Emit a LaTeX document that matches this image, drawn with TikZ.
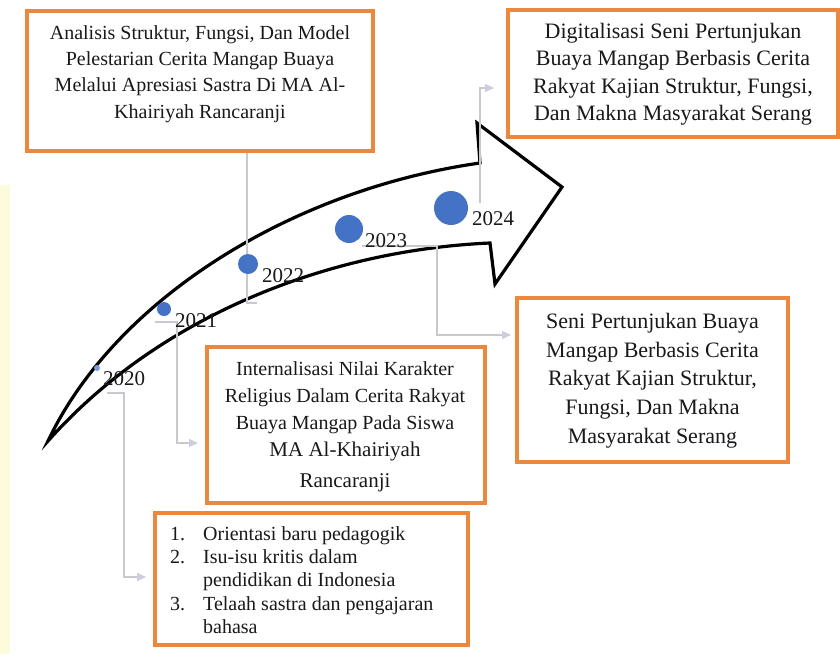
\documentclass[tikz,border=0pt]{standalone}
\usepackage{fontspec}
\setmainfont{Liberation Serif}
\usetikzlibrary{arrows.meta}
\definecolor{boxorange}{RGB}{236,135,62}
\definecolor{dotblue}{RGB}{68,114,196}
\definecolor{conngray}{RGB}{200,200,206}
\definecolor{tipgray}{RGB}{205,205,220}
\definecolor{inkblack}{RGB}{25,25,25}
\definecolor{stripyellow}{RGB}{253,252,218}
\begin{document}
\begin{tikzpicture}[x=1pt,y=-1pt,
  obox/.style={draw=boxorange,line width=3.5pt,fill=white,inner sep=0pt},
  btext/.style={anchor=north,inner sep=0pt,align=center,text=inkblack},
  yearlab/.style={anchor=base west,inner sep=0pt,text=inkblack,font=\fontsize{21}{21}\selectfont},
  dotnode/.style={circle,fill=dotblue,inner sep=0pt,draw=none},
  conn/.style={draw=conngray,line width=1.2pt},
  connarrow/.style={conn,-{Triangle[length=9pt,width=8pt,fill=tipgray,color=tipgray]}}
]
\useasboundingbox (0,0) rectangle (840,654);
\fill[white] (0,0) rectangle (840,654);
\fill[stripyellow] (0,185) rectangle (10,654);

% big curved arrow
\draw[line width=3.2pt,line join=miter,fill=white,draw=black]
  (48,441) .. controls (115,300) and (290,190) .. (480,163)
  -- (477,123) -- (562,187) -- (495,284) -- (490,243)
  .. controls (330,250) and (160,315) .. (48,441) -- cycle;

% boxes
\node[obox,minimum width=346pt,minimum height=140pt] (b1) at (200,81) {};
\node[obox,minimum width=330pt,minimum height=127pt] (b2) at (673,73.5) {};
\node[obox,minimum width=271pt,minimum height=164pt] (b3) at (652.5,380) {};
\node[obox,minimum width=278pt,minimum height=156pt] (b4) at (346,425) {};
\node[obox,minimum width=313pt,minimum height=132pt] (b5) at (311.5,579) {};

% box texts
\node[btext,font=\fontsize{20}{26.3}\selectfont] (t1) at (200,25.3)
  {Analisis Struktur, Fungsi, Dan Model\\Pelestarian Cerita Mangap Buaya\\Melalui Apresiasi Sastra Di MA Al-\\Khairiyah Rancaranji};
\node[btext,font=\fontsize{22}{27.3}\selectfont] (t2) at (673,23)
  {Digitalisasi Seni Pertunjukan\\Buaya Mangap Berbasis Cerita\\Rakyat Kajian Struktur, Fungsi,\\Dan Makna Masyarakat Serang};
\node[btext,font=\fontsize{22}{28.7}\selectfont] (t3) at (652.5,313)
  {Seni Pertunjukan Buaya\\Mangap Berbasis Cerita\\Rakyat Kajian Struktur,\\Fungsi, Dan Makna\\Masyarakat Serang};
\node[btext,font=\fontsize{20}{27}\selectfont] (t4) at (345,361.3)
  {Internalisasi Nilai Karakter\\Religius Dalam Cerita Rakyat\\Buaya Mangap Pada Siswa\\{\fontsize{21}{27}\selectfont MA Al-Khairiyah}\\[4pt]{\fontsize{21}{27}\selectfont Rancaranji}};
\node[anchor=north west,inner sep=0pt,text=inkblack,font=\fontsize{20}{23.3}\selectfont] (t5) at (170,523.7)
  {\begin{tabular}{@{}l@{\hspace{18pt}}l@{}}
   1. & Orientasi baru pedagogik\\
   2. & Isu-isu kritis dalam\\
      & pendidikan di Indonesia\\
   3. & Telaah sastra dan pengajaran\\
      & bahasa
   \end{tabular}};

% connector end points
\coordinate (s20) at (107,393);
\coordinate (e20) at (146,577);
\coordinate (s21) at (155,322);
\coordinate (e21) at (198,443);
\coordinate (s22) at (257,303);
\coordinate (e22) at (247,153);
\coordinate (s23) at (362,246);
\coordinate (e23) at (511,335);
\coordinate (s24) at (480,203);
\coordinate (e24) at (494,88);

\draw[connarrow] (s20) -- (124,393) |- (e20);
\draw[connarrow] (s21) -- (177,322) |- (e21);
\draw[conn] (s22) -- (247,303) -- (e22);
\draw[connarrow] (s23) -- (437,246) |- (e23);
\draw[connarrow] (s24) |- (e24);

% dots
\node[dotnode,minimum size=6pt,fill=dotblue!70] (d20) at (97,368) {};
\node[dotnode,minimum size=14pt] (d21) at (164,309) {};
\node[dotnode,minimum size=20pt] (d22) at (248,264) {};
\node[dotnode,minimum size=28pt] (d23) at (349,229) {};
\node[dotnode,minimum size=34pt] (d24) at (451,208) {};

% year labels
\node[yearlab] (y20) at (103,385) {2020};
\node[yearlab] (y21) at (175,327) {2021};
\node[yearlab] (y22) at (262,282) {2022};
\node[yearlab] (y23) at (365,247) {2023};
\node[yearlab] (y24) at (472,225) {2024};
\end{tikzpicture}
\end{document}
